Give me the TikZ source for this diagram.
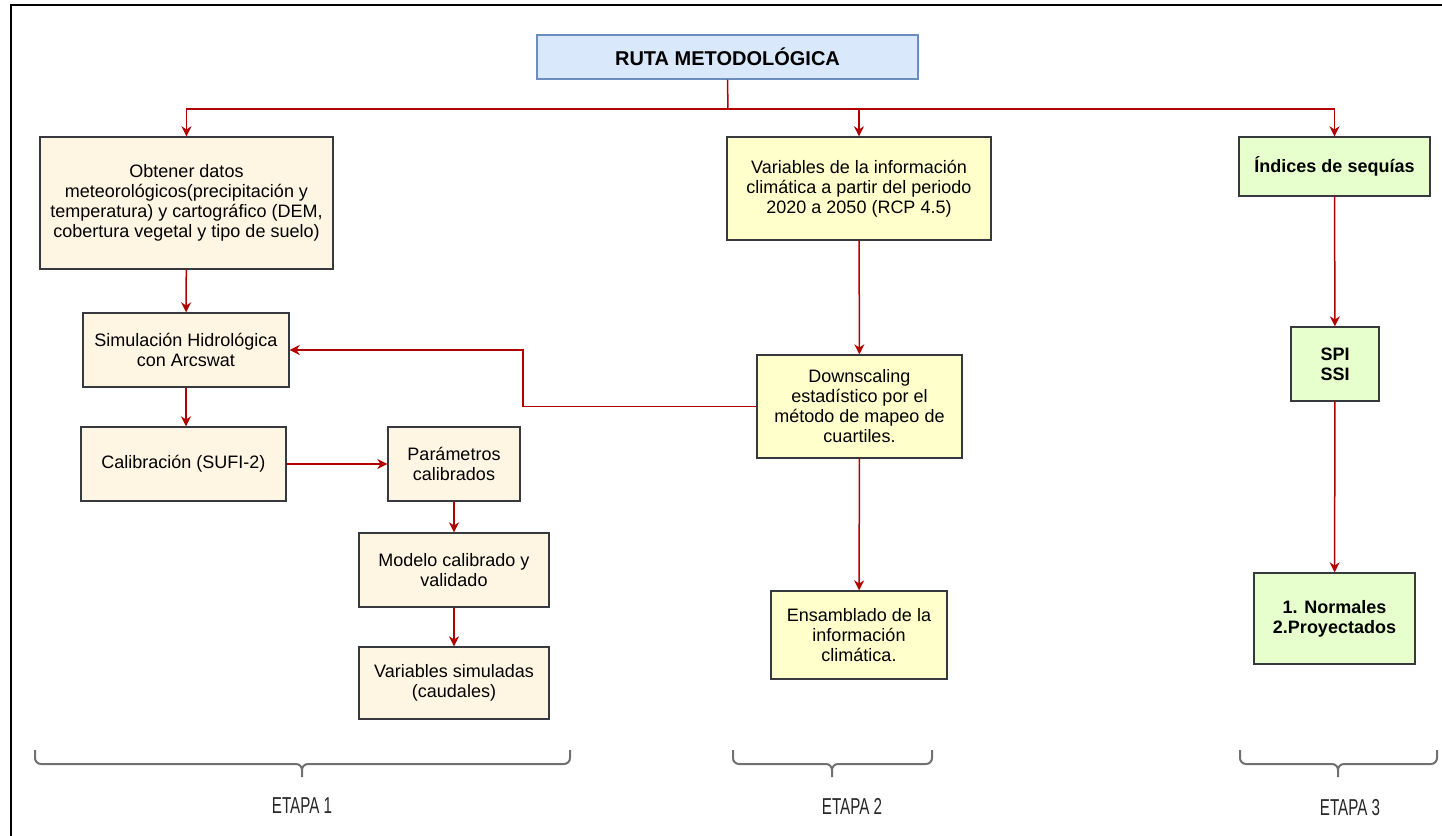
\documentclass[tikz,border=0pt]{standalone}
\usepackage{fontspec}
\setmainfont{Liberation Sans}
\newfontfamily\etapafont[FakeStretch=0.66]{Liberation Sans}
\usepackage{tikz}
\usetikzlibrary{arrows.meta,positioning,calc}
\usepackage{xcolor}
\definecolor{titlefill}{HTML}{DAE8FC}
\definecolor{titledraw}{HTML}{6C8EBF}
\definecolor{oneFill}{HTML}{FFF5E3}
\definecolor{twoFill}{HTML}{FFFFCC}
\definecolor{threeFill}{HTML}{E6FFCC}
\definecolor{boxline}{HTML}{36393D}
\definecolor{flowred}{HTML}{B20000}
\definecolor{bracegray}{HTML}{707070}

\begin{document}
\begin{tikzpicture}[
  x=0.5pt,y=-0.5pt,
  box/.style={draw=boxline,line width=0.7pt,align=center,inner sep=2pt,
    font=\fontsize{9}{10}\selectfont},
  stageone/.style={box,fill=oneFill},
  stagetwo/.style={box,fill=twoFill},
  stagethree/.style={box,fill=threeFill,font=\fontsize{9}{10}\selectfont\bfseries},
  title/.style={draw=titledraw,fill=titlefill,line width=0.7pt,
    font=\fontsize{10}{12}\selectfont\bfseries,minimum width=190.5pt,minimum height=22pt},
  arrow/.style={-{Stealth[length=5pt,width=5pt]},draw=flowred,line width=0.75pt},
  stagebrace/.style={draw=bracegray,line width=1pt,rounded corners=3pt},
  stagelabel/.style={font=\etapafont\fontsize{11.5}{13}\selectfont,text=black!85}
]
\useasboundingbox (0,0) rectangle (1442,836);
% partial frame
\draw[line width=0.8pt] (11,836) -- (11,5) -- (1442,5);

\node[title] (ruta) at (727.5,57) {RUTA METODOLÓGICA};
\coordinate (split) at (728,109);

% etapa 1
\node[stageone,minimum width=146.5pt,minimum height=66pt] (obtener) at (186.5,203)
  {Obtener datos\\meteorológicos(precipitación y\\temperatura) y cartográfico (DEM,\\cobertura vegetal y tipo de suelo)};
\node[stageone,minimum width=103pt,minimum height=37pt] (simul) at (186,350)
  {Simulación Hidrológica\\con Arcswat};
\node[stageone,minimum width=102.5pt,minimum height=37pt] (calib) at (183.5,464)
  {Calibración (SUFI-2)};
\node[stageone,minimum width=66pt,minimum height=37pt] (param) at (454,464)
  {Parámetros\\calibrados};
\node[stageone,minimum width=95pt,minimum height=37pt] (modelo) at (454,570)
  {Modelo calibrado y\\validado};
\node[stageone,minimum width=95pt,minimum height=36pt] (simvar) at (454,683)
  {Variables simuladas\\(caudales)};

% etapa 2
\node[stagetwo,minimum width=132pt,minimum height=51.5pt] (clima) at (859,188.5)
  {Variables de la información\\climática a partir del periodo\\2020 a 2050 (RCP 4.5)};
\node[stagetwo,minimum width=102.5pt,minimum height=51.5pt] (downsc) at (859.5,406.5)
  {Downscaling\\estadístico por el\\método de mapeo de\\cuartiles.};
\node[stagetwo,minimum width=88pt,minimum height=44pt] (ensam) at (859,635)
  {Ensamblado de la\\información\\climática.};

% etapa 3
\node[stagethree,minimum width=95.5pt,minimum height=29.5pt] (indices) at (1334.5,166.5)
  {Índices de sequías};
\node[stagethree,minimum width=44pt,minimum height=37pt] (spi) at (1335,364)
  {SPI\\SSI};
\node[stagethree,minimum width=80.5pt,minimum height=45.5pt] (normales) at (1334.5,618.5)
  {1. Normales\\2.Proyectados};

% connectors
\draw[draw=flowred,line width=0.75pt] (ruta.south) -- (split);
\draw[arrow] (split) -| (obtener.north);
\draw[arrow] (split) -| (clima.north);
\draw[arrow] (split) -| (indices.north);
\draw[arrow] (obtener) -- (simul);
\draw[arrow] (simul.south) -- (simul.south |- calib.north);
\draw[arrow] (calib) -- (param);
\draw[arrow] (param) -- (modelo);
\draw[arrow] (modelo) -- (simvar);
\draw[arrow] (clima) -- (downsc);
\draw[arrow] (downsc) -- (ensam);
\coordinate (bend) at (523,0);
\draw[arrow] (downsc.west) -- (downsc.west -| bend) |- (simul.east);
\draw[arrow] (indices) -- (spi);
\draw[arrow] (spi) -- (normales);

% etapas
\draw[stagebrace] (35,750) |- (302,764) -- (302,777) (570,750) |- (302,764) -- (302,777);
\draw[stagebrace] (733,750) |- (832,764) -- (832,777) (932,750) |- (832,764) -- (832,777);
\draw[stagebrace] (1240,750) |- (1338,764) -- (1338,777) (1437,750) |- (1338,764) -- (1338,777);
\node[stagelabel] (etapa1) at (302,806) {ETAPA 1};
\node[stagelabel] (etapa2) at (852,806) {ETAPA 2};
\node[stagelabel] (etapa3) at (1350,808) {ETAPA 3};
\end{tikzpicture}
\end{document}
